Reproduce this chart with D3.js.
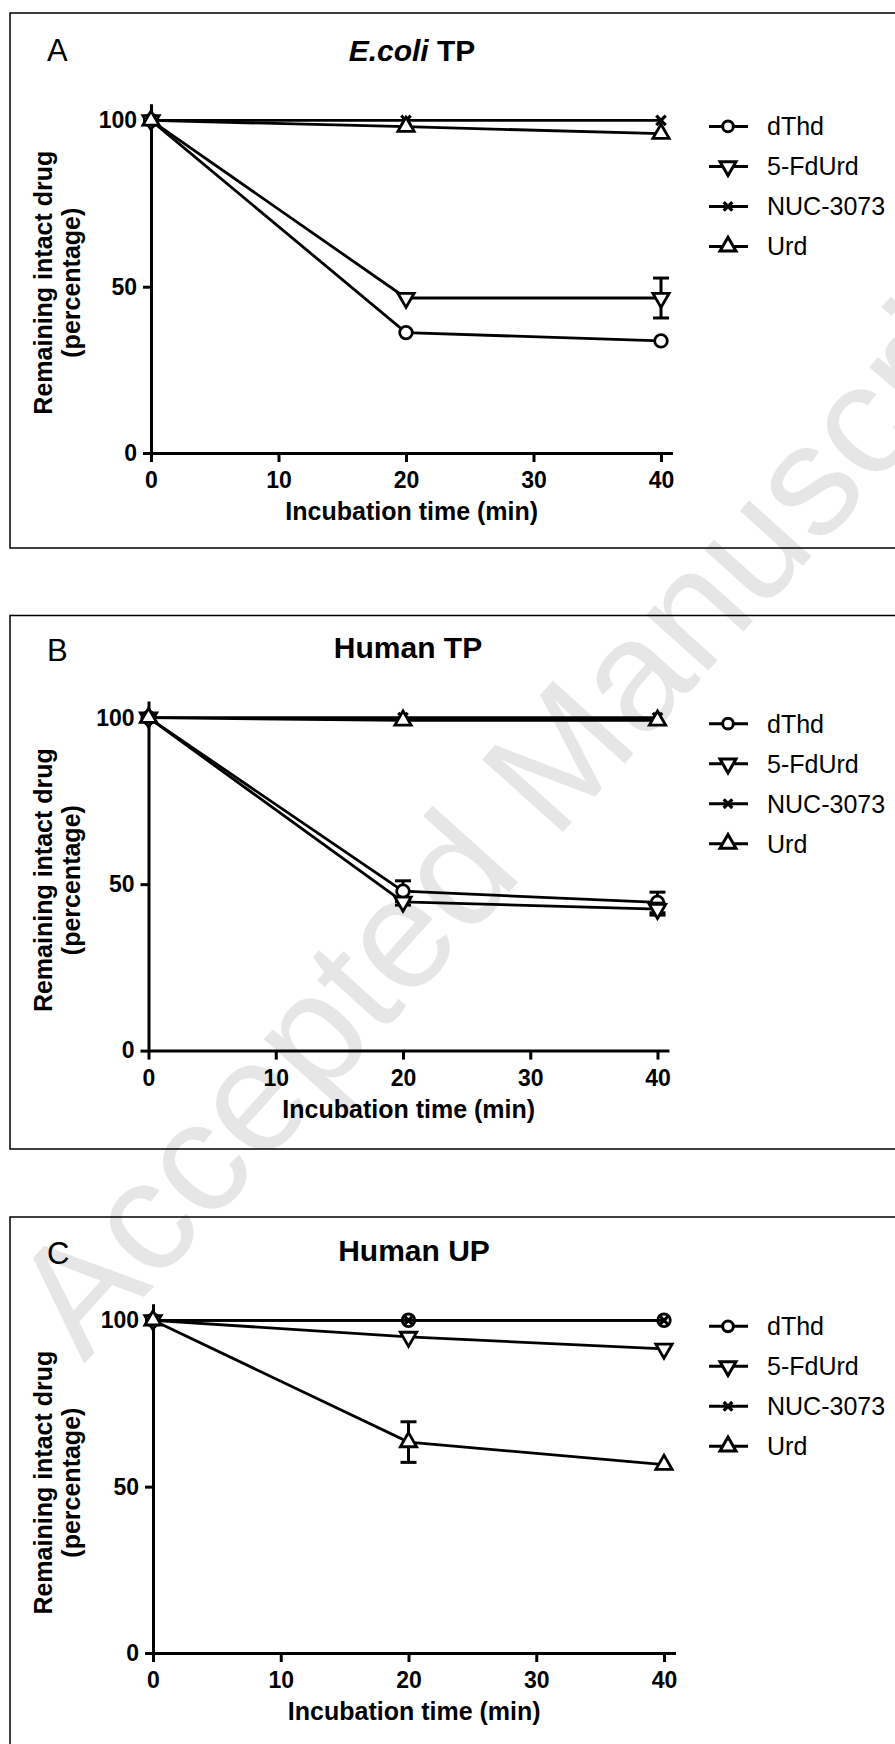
<!DOCTYPE html>
<html>
<head>
<meta charset="utf-8">
<script src="https://cdn.jsdelivr.net/npm/d3@7"></script>
<style>
  body { margin: 0; background: #fff; }
  svg text { font-family: "Liberation Sans", Arial, sans-serif; }
</style>
</head>
<body>
<div id="result"></div>
<script>
// data
const times = [0, 20, 40]
const xTicks = [0, 10, 20, 30, 40]
const yTicks = [0, 50, 100]
const seriesNames = ["dThd", "5-FdUrd", "NUC-3073", "Urd"]
const seriesSymbols = ["circle", "triangleDown", "cross", "triangleUp"]

// A: E.coli TP
const ecoliMean = [[100, 36.2, 33.7], [100, 46.6, 46.6], [100, 100, 100], [100, 98.1, 96.0]]
const ecoliSd = [[0, 0, 0], [0, 0, 6.0], [0, 0, 0], [0, 0, 0]]
// B: Human TP
const humanTpMean = [[100, 47.9, 44.5], [100, 44.7, 42.5], [100, 100, 100], [100, 99.2, 99.2]]
const humanTpSd = [[0, 3.1, 3.1], [0, 1.0, 1.8], [0, 0, 0], [0, 0, 0]]
// C: Human UP
const humanUpMean = [[100, 100, 100], [100, 95.0, 91.4], [100, 100, 100], [100, 63.4, 56.6]]
const humanUpSd = [[0, 0, 0], [0, 0, 0], [0, 0, 0], [0, 6.1, 0]]

const W = 895, H = 1744
const FONT = '"Liberation Sans", Arial, sans-serif'

const svg = d3.select("#result")
  .append("svg")
  .attr("width", W)
  .attr("height", H)

// watermark behind everything
svg.append("text")
  .attr("transform", `translate(${84}, ${1364}) rotate(-48)`)
  .attr("font-size", 158)
  .attr("fill", "#e6e6e6")
  .text("Accepted Manuscript")

function symbolPath(kind) {
  if (kind === "circle") return d3.symbol(d3.symbolCircle, 125)()
  if (kind === "cross") return d3.symbol(d3.symbolTimes, 60)()
  return d3.symbol(d3.symbolTriangle, 115)()
}

class panelFig {
  g
  x
  y
  constructor(opt, mean, sd) {
    this.g = svg.append("g")
    // frame, right edge runs off the page
    this.g.append("rect")
      .attr("x", 10).attr("y", opt.top)
      .attr("width", 900).attr("height", opt.boxH)
      .attr("fill", "none").attr("stroke", "#000").attr("stroke-width", 1.5)

    this.g.append("text")
      .attr("x", 47).attr("y", opt.top + opt.letterDy)
      .attr("font-size", 31)
      .text(opt.letter)

    const t = this.g.append("text")
      .attr("x", opt.titleX).attr("y", opt.top + opt.titleDy)
      .attr("font-size", 30).attr("font-weight", "bold")
      .attr("text-anchor", "middle")
    if (opt.italic) t.append("tspan").attr("font-style", "italic").text(opt.italic)
    t.append("tspan").text(opt.title)

    this.x = d3.scaleLinear().domain([0, 40]).range([opt.x0, opt.x40])
    this.y = d3.scaleLinear().domain([0, 100]).range([opt.y0, opt.y100])
    this.buildAxes(opt)
    this.buildFig(mean, sd)
    this.buildLegend(opt)
  }

  buildAxes(opt) {
    const x = this.x, y = this.y
    const xEnd = x.copy().domain([0, 40.9]).range([x(0), x(40.9)])
    const yEnd = y.copy().domain([0, 105]).range([y(0), y(105)])

    const gx = this.g.append("g")
      .attr("transform", `translate(0, ${y(0)})`)
      .call(d3.axisBottom(xEnd).tickValues(xTicks).tickSize(9).tickSizeOuter(0).tickPadding(10))
    const gy = this.g.append("g")
      .attr("transform", `translate(${x(0)}, 0)`)
      .call(d3.axisLeft(yEnd).tickValues(yTicks).tickSize(8).tickSizeOuter(0).tickPadding(6))

    for (const a of [gx, gy]) {
      a.attr("font-family", FONT).attr("font-size", 23).attr("font-weight", "bold")
      a.select(".domain").attr("stroke-width", 3)
      a.selectAll(".tick line").attr("stroke-width", 3)
      a.selectAll(".tick text").attr("fill", "#000")
    }

    this.g.append("text")
      .attr("x", (x(0) + x(40.9)) / 2).attr("y", y(0) + 67)
      .attr("text-anchor", "middle")
      .attr("font-size", 25).attr("font-weight", "bold")
      .text("Incubation time (min)")

    const cy = y(50) - 4
    this.g.append("text")
      .attr("transform", `translate(${52}, ${cy}) rotate(-90)`)
      .attr("text-anchor", "middle")
      .attr("font-size", 25).attr("font-weight", "bold")
      .text("Remaining intact drug")
    this.g.append("text")
      .attr("transform", `translate(${80}, ${cy}) rotate(-90)`)
      .attr("text-anchor", "middle")
      .attr("font-size", 25).attr("font-weight", "bold")
      .text("(percentage)")
  }

  drawMarker(sel, kind) {
    sel.append("path")
      .attr("d", symbolPath(kind))
      .attr("transform", d => `translate(${d[0]}, ${d[1]})` + (kind === "triangleDown" ? " rotate(180)" : ""))
      .attr("fill", kind === "cross" ? "none" : "#fff")
      .attr("stroke", "#000")
      .attr("stroke-width", kind === "cross" ? 3.2 : 2.8)
  }

  buildFig(mean, sd) {
    const x = this.x, y = this.y
    const line = d3.line().x(d => x(d.t)).y(d => y(d.v))

    seriesNames.forEach((name, i) => {
      const pts = times.map((t, j) => ({ t: t, v: mean[i][j], e: sd[i][j] }))
      const s = this.g.append("g")

      s.append("path")
        .datum(pts)
        .attr("d", line)
        .attr("fill", "none")
        .attr("stroke", "#000")
        .attr("stroke-width", 2.8)

      const bars = pts.filter(d => d.e > 0)
      const eb = s.selectAll(".eb").data(bars).enter().append("g")
      eb.append("line")
        .attr("x1", d => x(d.t)).attr("x2", d => x(d.t))
        .attr("y1", d => y(d.v - d.e)).attr("y2", d => y(d.v + d.e))
      eb.append("line")
        .attr("x1", d => x(d.t) - 8).attr("x2", d => x(d.t) + 8)
        .attr("y1", d => y(d.v + d.e)).attr("y2", d => y(d.v + d.e))
      eb.append("line")
        .attr("x1", d => x(d.t) - 8).attr("x2", d => x(d.t) + 8)
        .attr("y1", d => y(d.v - d.e)).attr("y2", d => y(d.v - d.e))
      eb.selectAll("line").attr("stroke", "#000").attr("stroke-width", 3)

      const m = s.selectAll(".pt").data(pts.map(d => [x(d.t), y(d.v)])).enter().append("g")
      this.drawMarker(m, seriesSymbols[i])
    })
  }

  buildLegend(opt) {
    const lg = this.g.append("g")
    seriesNames.forEach((name, i) => {
      const ry = this.y(100) + 6 + i * 40
      lg.append("line")
        .attr("x1", 709).attr("x2", 748)
        .attr("y1", ry).attr("y2", ry)
        .attr("stroke", "#000").attr("stroke-width", 3)
      const k = seriesSymbols[i]
      lg.append("path")
        .attr("d", k === "circle" ? d3.symbol(d3.symbolCircle, 90)() : k === "cross" ? d3.symbol(d3.symbolTimes, 50)() : d3.symbol(d3.symbolTriangle, 110)())
        .attr("transform", `translate(${728}, ${ry})` + (k === "triangleDown" ? " rotate(180)" : ""))
        .attr("fill", k === "cross" ? "none" : "#fff")
        .attr("stroke", "#000").attr("stroke-width", k === "cross" ? 3.2 : 3)
      lg.append("text")
        .attr("x", 767).attr("y", ry + 9)
        .attr("font-size", 25)
        .text(name)
    })
  }
}

const panelA = new panelFig({ letter: "A", italic: "E.coli", title: " TP", top: 13, boxH: 535, letterDy: 48, titleDy: 48, titleX: 412,
  x0: 151, x40: 661, y0: 453, y100: 120.4 }, ecoliMean, ecoliSd)
const panelB = new panelFig({ letter: "B", italic: null, title: "Human TP", top: 615.5, boxH: 533.5, letterDy: 45.5, titleDy: 42, titleX: 408,
  x0: 148.5, x40: 657.5, y0: 1050.6, y100: 717.7 }, humanTpMean, humanTpSd)
const panelC = new panelFig({ letter: "C", italic: null, title: "Human UP", top: 1217, boxH: 600, letterDy: 47, titleDy: 44, titleX: 414,
  x0: 153, x40: 664, y0: 1653, y100: 1320.3 }, humanUpMean, humanUpSd)
</script>
</body>
</html>
